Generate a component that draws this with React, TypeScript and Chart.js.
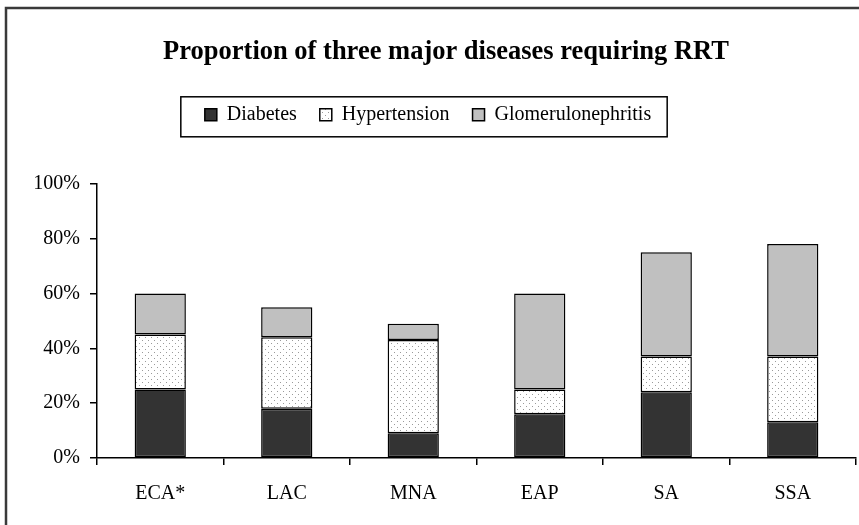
import React, { useEffect, useRef } from "react";
import { Chart, registerables } from "chart.js";

Chart.register(...registerables);

const categories = ["ECA*", "LAC", "MNA", "EAP", "SA", "SSA"];
const diabetes = [25, 18, 9, 16, 24, 13];
const hypertension = [20, 26, 34, 9, 13, 24];
const glomerulonephritis = [15, 11, 6, 35, 38, 41];
const yTicks = [0, 20, 40, 60, 80, 100];
const titleText = "Proportion of three major diseases requiring RRT";

function makeDotPattern(): CanvasPattern | string {
  const c = document.createElement("canvas");
  c.width = 6;
  c.height = 6;
  const g = c.getContext("2d");
  if (!g) return "#ffffff";
  g.fillStyle = "#ffffff";
  g.fillRect(0, 0, 6, 6);
  g.fillStyle = "#9a9a9a";
  g.fillRect(1, 1, 1, 1);
  g.fillRect(4, 4, 1, 1);
  const p = g.createPattern(c, "repeat");
  return p || "#ffffff";
}

const framePlugin = {
  id: "frameAndLegendBox",
  beforeLayout(chart: any) {
    const lg = chart.legend;
    if (lg && !lg.__patched) {
      const orig = lg.fit;
      lg.fit = function () {
        orig.call(this);
        this.height += 49;
      };
      lg.__patched = true;
    }
  },
  afterLayout(chart: any) {
    const t = chart.titleBlock;
    if (t) {
      t.left += 18;
      t.right += 18;
    }
  },
  afterDraw(chart: any) {
    const ctx = chart.ctx;
    ctx.save();
    // outer frame (top and left)
    ctx.strokeStyle = "#3a3a3a";
    ctx.lineWidth = 2.5;
    ctx.beginPath();
    ctx.moveTo(6, chart.height);
    ctx.lineTo(6, 8);
    ctx.lineTo(chart.width, 8);
    ctx.stroke();
    // legend frame
    const hb = chart.legend && chart.legend.legendHitBoxes;
    if (hb && hb.length) {
      const first = hb[0];
      const last = hb[hb.length - 1];
      const x0 = first.left - 24;
      const x1 = last.left + last.width + 16;
      const y0 = first.top - 8;
      const y1 = first.top + 32;
      ctx.strokeStyle = "#000";
      ctx.lineWidth = 1.5;
      ctx.strokeRect(x0, y0, x1 - x0, y1 - y0);
    }
    ctx.restore();
  },
};

export default function App() {
  const ref = useRef<HTMLCanvasElement | null>(null);

  useEffect(() => {
    document.body.style.margin = "0";
    const canvas = ref.current;
    if (!canvas) return;
    Chart.defaults.font.family = "'Liberation Serif', 'Times New Roman', serif";
    Chart.defaults.color = "#000";
    const dots = makeDotPattern();
    const common = {
      borderColor: "#000",
      borderWidth: 1.5,
      borderSkipped: false as const,
      categoryPercentage: 1,
      barPercentage: 0.405,
    };
    const chart = new Chart(canvas, {
      type: "bar",
      data: {
        labels: categories,
        datasets: [
          { label: "Diabetes", data: diabetes, backgroundColor: "#333333", ...common },
          { label: "Hypertension", data: hypertension, backgroundColor: dots as any, ...common },
          { label: "Glomerulonephritis", data: glomerulonephritis, backgroundColor: "#c0c0c0", ...common },
        ],
      },
      options: {
        animation: false,
        responsive: false,
        maintainAspectRatio: false,
        layout: { padding: { top: 0, left: 0, right: 3, bottom: 0 } },
        plugins: {
          tooltip: { enabled: false },
          title: {
            display: true,
            text: titleText,
            color: "#000",
            font: { size: 26.5, weight: "bold", lineHeight: 1.2 },
            padding: { top: 36, bottom: 14 },
          },
          legend: {
            display: true,
            position: "top",
            labels: {
              boxWidth: 12,
              boxHeight: 12,
              padding: 23,
              color: "#000",
              font: { size: 20 },
            },
          },
        },
        scales: {
          x: {
            stacked: true,
            offset: true,
            grid: {
              display: true,
              offset: true,
              drawOnChartArea: false,
              drawTicks: true,
              tickLength: 7,
              color: "#000",
              lineWidth: 1.5,
            },
            border: { display: true, color: "#000", width: 1.5 },
            ticks: { font: { size: 20 }, color: "#000", padding: 17 },
            afterFit: (s: any) => {
              s.height = 67;
            },
          },
          y: {
            stacked: true,
            min: 0,
            max: 100,
            afterBuildTicks: (s: any) => {
              s.ticks = yTicks.map((v) => ({ value: v }));
            },
            grid: {
              display: true,
              drawOnChartArea: false,
              drawTicks: true,
              tickLength: 7,
              color: "#000",
              lineWidth: 1.5,
            },
            border: { display: true, color: "#000", width: 1.5 },
            ticks: {
              font: { size: 20 },
              color: "#000",
              padding: 10,
              callback: (v: any) => `${v}%`,
            },
            afterFit: (s: any) => {
              s.width = 97;
            },
          },
        },
      },
      plugins: [framePlugin],
    });
    return () => chart.destroy();
  }, []);

  return (
    <div style={{ width: 859, height: 525, position: "relative" }}>
      <canvas ref={ref} width={859} height={525} style={{ display: "block", width: 859, height: 525 }} />
    </div>
  );
}
